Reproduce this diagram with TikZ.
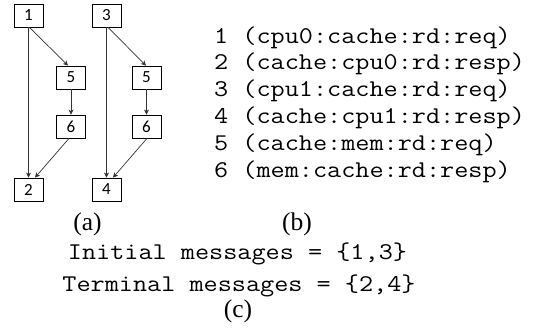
\documentclass[tikz,border=0pt]{standalone}
\usepackage{fontspec}
\setmainfont{Liberation Serif}
\newfontfamily\boxfont{Carlito}
\newfontfamily\codefont{Latin Modern Mono}[FakeStretch=1.143]
\usetikzlibrary{arrows.meta}
\begin{document}
\begin{tikzpicture}[x=1pt,y=-1pt,
  msgbox/.style={draw=black,line width=0.8pt,minimum width=29pt,minimum height=23pt,inner sep=0pt,font=\boxfont\fontsize{17}{20}\selectfont},
  edge/.style={draw=black!80,line width=0.7pt,-{Stealth[length=5pt,width=5pt,inset=1.5pt]}},
  code/.style={anchor=base west,inner sep=0pt,font=\codefont\fontsize{24}{27}\selectfont},
  captext/.style={anchor=base,inner sep=0pt,font=\fontsize{25.5}{30}\selectfont}]
\useasboundingbox (0,0) rectangle (543,335);
\node[msgbox] (n1) at (28.5,15.5) {1};
\node[msgbox] (n5a) at (71,77.5) {5};
\node[msgbox] (n6a) at (71,126.5) {6};
\node[msgbox] (n2) at (28.5,189.5) {2};
\node[msgbox] (n3) at (106.5,15.5) {3};
\node[msgbox] (n5b) at (146.5,77.5) {5};
\node[msgbox] (n6b) at (146.5,126.5) {6};
\node[msgbox] (n4) at (106.5,189.5) {4};
\draw[edge] (n1.south) -- (n2.north);
\draw[edge] ([xshift=1pt]n1.south) -- ([xshift=-3pt]n5a.north);
\draw[edge] (n5a) -- (n6a);
\draw[edge] ([xshift=-2pt]n6a.south) -- ([xshift=6.5pt]n2.north);
\draw[edge] (n3.south) -- (n4.north);
\draw[edge] ([xshift=1.5pt]n3.south) -- ([xshift=-0.5pt]n5b.north);
\draw[edge] (n5b) -- (n6b);
\draw[edge] ([xshift=0.5pt]n6b.south) -- ([xshift=6.5pt]n4.north);
\node[code] (l1) at (214,43) {1 (cpu0:cache:rd:req)};
\node[code] (l2) at (214,69.8) {2 (cache:cpu0:rd:resp)};
\node[code] (l3) at (214,96.6) {3 (cpu1:cache:rd:req)};
\node[code] (l4) at (214,123.4) {4 (cache:cpu1:rd:resp)};
\node[code] (l5) at (214,150.2) {5 (cache:mem:rd:req)};
\node[code] (l6) at (214,177) {6 (mem:cache:rd:resp)};
\node[captext] (ca) at (87.5,230) {(a)};
\node[captext] (cb) at (297,230) {(b)};
\node[code,anchor=base] (i1) at (237.5,259.5) {Initial messages = \{1,3\}};
\node[code,anchor=base] (i2) at (239,291) {Terminal messages = \{2,4\}};
\node[captext] (cc) at (238,317) {(c)};
\end{tikzpicture}
\end{document}
